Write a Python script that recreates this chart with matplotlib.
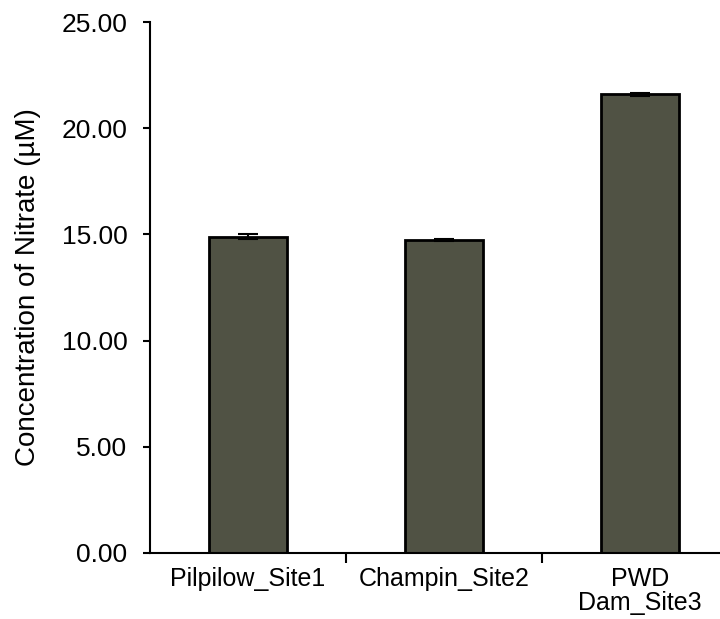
import matplotlib.pyplot as plt
import numpy as np

plt.rcParams['font.family'] = ['Liberation Sans', 'DejaVu Sans']

# data
sites = ["Pilpilow_Site1", "Champin_Site2", "PWD\nDam_Site3"]
nitrate = [14.9, 14.75, 21.6]
nitrate_err = [0.12, 0.06, 0.08]
ytick_vals = [0, 5, 10, 15, 20, 25]

fig = plt.figure(figsize=(7.2, 6.19), dpi=100)
ax = fig.add_axes([0.208, 0.107, 0.817, 0.857])

x = np.arange(len(sites))
ax.bar(x, nitrate, width=0.4, color="#505244", edgecolor="black", linewidth=2)
ax.errorbar(x, nitrate, yerr=nitrate_err, fmt="none", ecolor="black",
            elinewidth=1.5, capsize=7, capthick=1.5)

ax.set_xlim(-0.5, 2.5)
ax.set_ylim(0, 25)
ax.set_yticks(ytick_vals)
ax.set_yticklabels(["%.2f" % v for v in ytick_vals], fontsize=19)

# x ticks sit on category boundaries, labels centred under bars
ax.set_xticks([0.5, 1.5], minor=False)
ax.set_xticklabels([])
ax.set_xticks(x, minor=True)
ax.set_xticklabels(sites, minor=True, fontsize=18, linespacing=1.0)
ax.tick_params(axis="x", which="minor", length=0, pad=10)
ax.tick_params(axis="x", which="major", length=7, width=1.5, direction="out")
ax.tick_params(axis="y", length=5, width=1.5, direction="out", pad=11)

ax.set_ylabel("Concentration of Nitrate (µM)", fontsize=20)
ax.yaxis.set_label_coords(-0.185, 0.5)

for s in ["top", "right"]:
    ax.spines[s].set_visible(False)
for s in ["left", "bottom"]:
    ax.spines[s].set_linewidth(1.5)

fig.savefig("out.png", dpi=100)
